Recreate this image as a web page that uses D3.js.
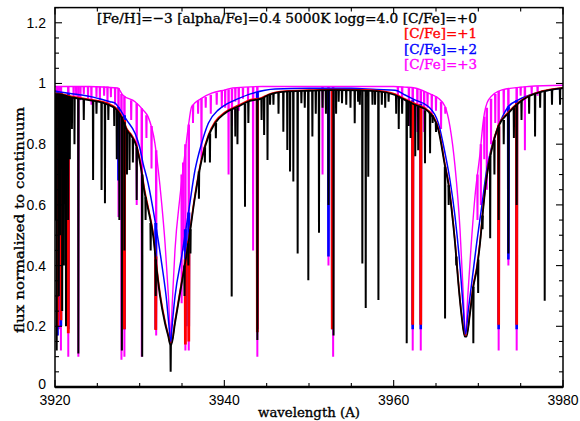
<!DOCTYPE html>
<html><head><meta charset="utf-8">
<script src="https://cdn.jsdelivr.net/npm/d3@7/dist/d3.min.js"></script>
<style>body{margin:0;background:#fff}svg{display:block}</style>
</head><body><svg id="c" width="580" height="421"></svg>
<script>
// ---------- labels / ticks ----------
const xTickValues = [3920, 3940, 3960, 3980];
const xTickLabels = ["3920", "3940", "3960", "3980"];
const yTickValues = [0, 0.2, 0.4, 0.6, 0.8, 1, 1.2];
const yTickLabels = ["0", "0.2", "0.4", "0.6", "0.8", "1", "1.2"];
const titleText = "[Fe/H]=\u22123 [alpha/Fe]=0.4 5000K logg=4.0 [C/Fe]=+0";
const legendLabels = ["[C/Fe]=+1", "[C/Fe]=+2", "[C/Fe]=+3"];
const xLabel = "wavelength (A)";
const yLabel = "flux normalized to continuum";

// ---------- pseudo-continuum / broad profiles [wavelength, flux] ----------
const blackCont = [[3920.0,0.965],[3920.5,0.965],[3921.0,0.962],[3921.6,0.957],[3922.2,0.953],[3923.15,0.949],[3924.0,0.945],[3925.1,0.94],[3926.0,0.933],[3926.6,0.926],[3927.1,0.918],[3927.5,0.905],[3928.0,0.88],[3928.46,0.847],[3929.06,0.825],[3929.65,0.79],[3930.16,0.72],[3930.55,0.645],[3931.02,0.583],[3931.61,0.495],[3932.0,0.39],[3932.4,0.30],[3932.99,0.21],[3933.39,0.166],[3933.6,0.14],[3933.75,0.14],[3934.17,0.21],[3934.96,0.341],[3935.75,0.473],[3936.54,0.627],[3937.32,0.748],[3938.11,0.825],[3938.9,0.869],[3940.08,0.902],[3941.65,0.924],[3943.03,0.943],[3944.4,0.95],[3945.2,0.962],[3947.2,0.973],[3950.0,0.976],[3953.0,0.978],[3956.0,0.977],[3958.0,0.975],[3960.16,0.962],[3961.3,0.946],[3962.5,0.93],[3964.1,0.907],[3965.28,0.847],[3966.07,0.726],[3966.45,0.671],[3966.85,0.583],[3967.25,0.473],[3967.64,0.341],[3968.03,0.232],[3968.4,0.166],[3968.6,0.166],[3969.02,0.243],[3969.41,0.33],[3969.8,0.385],[3970.2,0.473],[3970.6,0.594],[3971.0,0.693],[3971.58,0.781],[3972.36,0.858],[3973.55,0.902],[3974.73,0.935],[3975.9,0.957],[3977.5,0.973],[3980.0,0.985]];
const redCont = [[3920.0,0.968],[3920.5,0.967],[3921.0,0.964],[3921.6,0.96],[3922.2,0.956],[3923.15,0.952],[3924.0,0.948],[3925.1,0.943],[3926.0,0.937],[3926.6,0.93],[3927.1,0.922],[3927.5,0.91],[3928.0,0.885],[3928.46,0.852],[3929.06,0.83],[3929.65,0.796],[3930.16,0.728],[3930.55,0.655],[3931.02,0.59],[3931.61,0.503],[3932.0,0.40],[3932.4,0.31],[3932.99,0.218],[3933.39,0.17],[3933.6,0.145],[3933.75,0.145],[3934.17,0.216],[3934.96,0.348],[3935.75,0.48],[3936.54,0.634],[3937.32,0.754],[3938.11,0.83],[3938.9,0.874],[3940.08,0.906],[3941.65,0.928],[3943.03,0.946],[3944.4,0.953],[3945.2,0.964],[3947.2,0.975],[3950.0,0.978],[3953.0,0.98],[3956.0,0.979],[3958.0,0.977],[3960.16,0.965],[3961.3,0.95],[3962.5,0.934],[3964.1,0.911],[3965.28,0.852],[3966.07,0.733],[3966.45,0.678],[3966.85,0.59],[3967.25,0.48],[3967.64,0.348],[3968.03,0.238],[3968.4,0.17],[3968.6,0.17],[3969.02,0.25],[3969.41,0.337],[3969.8,0.392],[3970.2,0.48],[3970.6,0.6],[3971.0,0.7],[3971.58,0.787],[3972.36,0.862],[3973.55,0.906],[3974.73,0.938],[3975.9,0.959],[3977.5,0.975],[3980.0,0.986]];
const blueCont = [[3920.0,0.975],[3921.0,0.97],[3922.0,0.966],[3923.15,0.962],[3924.5,0.955],[3925.5,0.948],[3926.5,0.94],[3927.1,0.935],[3927.5,0.922],[3928.0,0.90],[3928.46,0.88],[3929.45,0.836],[3930.0,0.79],[3930.4,0.737],[3931.0,0.671],[3931.8,0.55],[3932.6,0.407],[3933.2,0.28],[3933.5,0.19],[3933.66,0.135],[3933.8,0.19],[3934.17,0.298],[3934.96,0.43],[3935.75,0.572],[3936.54,0.715],[3937.32,0.803],[3938.11,0.869],[3939.3,0.913],[3940.08,0.929],[3941.65,0.95],[3943.0,0.965],[3944.8,0.978],[3946.0,0.982],[3950.0,0.984],[3955.0,0.984],[3958.0,0.98],[3960.16,0.978],[3961.35,0.962],[3962.5,0.946],[3964.1,0.924],[3965.28,0.869],[3966.07,0.77],[3966.65,0.682],[3967.25,0.561],[3967.84,0.396],[3968.23,0.254],[3968.48,0.17],[3968.82,0.254],[3969.21,0.341],[3969.8,0.473],[3970.4,0.594],[3970.99,0.715],[3971.58,0.792],[3972.36,0.858],[3973.55,0.924],[3974.73,0.946],[3976.7,0.968],[3980.0,0.984]];
const magCont = [[3920.0,0.99],[3924.0,0.99],[3927.4,0.985],[3928.0,0.962],[3929.45,0.94],[3930.4,0.913],[3931.0,0.89],[3931.8,0.803],[3932.2,0.715],[3932.6,0.605],[3933.0,0.473],[3933.4,0.298],[3933.66,0.165],[3933.85,0.276],[3934.17,0.451],[3934.76,0.627],[3935.35,0.77],[3935.75,0.858],[3936.14,0.924],[3937.3,0.951],[3938.5,0.968],[3940.08,0.979],[3941.0,0.985],[3944.5,0.99],[3960.0,0.99],[3961.3,0.988],[3962.5,0.985],[3964.1,0.968],[3965.28,0.951],[3966.07,0.924],[3966.65,0.858],[3967.25,0.726],[3967.84,0.517],[3968.23,0.298],[3968.48,0.166],[3968.75,0.298],[3969.14,0.462],[3969.6,0.627],[3970.2,0.77],[3970.6,0.88],[3971.2,0.946],[3972.8,0.979],[3975.9,0.99],[3980.0,0.994]];

// ---------- narrow absorption lines [wavelength, top flux, bottom flux] ----------
const blackLines = [[3920.1,0.965,0.55],[3920.2,0.965,0.12],[3920.45,0.965,0.30],[3920.6,0.965,0.50],[3920.85,0.964,0.25],[3921.05,0.962,0.40],[3921.3,0.96,0.20],[3921.55,0.958,0.55],[3921.75,0.956,0.75],[3922.0,0.954,0.85],[3922.3,0.953,0.80],[3922.76,0.951,0.11],[3923.4,0.948,0.88],[3924.5,0.943,0.682],[3924.9,0.941,0.90],[3925.5,0.937,0.649],[3925.9,0.934,0.605],[3926.3,0.93,0.88],[3927.0,0.92,0.86],[3927.3,0.912,0.75],[3927.6,0.9,0.55],[3927.9,0.89,0.12],[3928.2,0.872,0.45],[3928.5,0.846,0.70],[3928.8,0.835,0.715],[3929.2,0.818,0.74],[3929.65,0.79,0.616],[3930.3,0.70,0.10],[3930.7,0.625,0.55],[3931.3,0.54,0.45],[3931.9,0.42,0.30],[3933.66,0.14,0.05],[3935.3,0.40,0.30],[3935.75,0.473,0.40],[3936.0,0.52,0.44],[3937.0,0.71,0.62],[3937.7,0.79,0.74],[3938.3,0.835,0.74],[3939.0,0.87,0.82],[3940.87,0.913,0.298],[3941.3,0.918,0.825],[3941.55,0.922,0.80],[3942.44,0.934,0.594],[3942.84,0.94,0.87],[3943.9,0.946,0.155],[3944.4,0.95,0.88],[3944.7,0.955,0.83],[3945.1,0.96,0.748],[3945.4,0.963,0.93],[3945.8,0.966,0.93],[3946.4,0.97,0.90],[3946.97,0.972,0.841],[3947.44,0.973,0.781],[3947.76,0.974,0.71],[3948.15,0.975,0.677],[3948.66,0.975,0.44],[3949.1,0.976,0.935],[3949.5,0.976,0.92],[3949.92,0.976,0.352],[3950.4,0.976,0.825],[3950.8,0.977,0.90],[3951.18,0.977,0.508],[3951.6,0.977,0.92],[3952.0,0.977,0.90],[3952.3,0.977,0.60],[3952.9,0.978,0.17],[3953.2,0.978,0.90],[3953.5,0.978,0.94],[3953.9,0.978,0.935],[3954.4,0.978,0.93],[3954.9,0.978,0.92],[3955.4,0.978,0.869],[3955.8,0.978,0.94],[3956.0,0.977,0.93],[3956.3,0.977,0.407],[3956.7,0.976,0.26],[3957.0,0.976,0.693],[3957.5,0.975,0.93],[3957.8,0.975,0.93],[3958.2,0.974,0.287],[3958.6,0.972,0.93],[3959.0,0.97,0.92],[3959.4,0.968,0.94],[3960.3,0.96,0.90],[3960.6,0.957,0.85],[3961.0,0.952,0.90],[3961.54,0.945,0.144],[3961.75,0.943,0.86],[3962.0,0.94,0.82],[3962.55,0.93,0.76],[3962.9,0.925,0.78],[3963.7,0.912,0.737],[3964.3,0.903,0.77],[3964.6,0.895,0.87],[3965.0,0.87,0.84],[3966.07,0.726,0.226],[3966.5,0.665,0.60],[3967.4,0.43,0.40],[3969.41,0.33,0.144],[3969.98,0.42,0.31],[3970.5,0.565,0.52],[3971.4,0.76,0.49],[3971.9,0.815,0.70],[3972.4,0.858,0.55],[3973.0,0.88,0.80],[3973.55,0.902,0.44],[3974.2,0.92,0.82],[3974.53,0.93,0.60],[3975.1,0.942,0.88],[3976.0,0.958,0.90],[3976.7,0.965,0.825],[3977.3,0.97,0.92],[3977.84,0.975,0.284],[3978.7,0.979,0.93],[3979.65,0.984,0.93]];
const redLines = [[3920.3,0.967,0.20],[3920.7,0.966,0.22],[3921.57,0.96,0.177],[3928.2,0.88,0.19],[3931.9,0.43,0.188],[3935.4,0.42,0.14],[3935.8,0.48,0.15],[3943.9,0.946,0.18],[3952.75,0.98,0.19],[3962.25,0.934,0.205],[3963.2,0.922,0.205],[3972.4,0.862,0.205],[3974.53,0.936,0.205]];
const blueLines = [[3920.3,0.974,0.17],[3920.7,0.972,0.20],[3921.57,0.968,0.19],[3927.5,0.922,0.68],[3928.2,0.895,0.19],[3931.9,0.54,0.19],[3935.4,0.52,0.20],[3935.8,0.575,0.20],[3943.9,0.972,0.19],[3952.3,0.984,0.43],[3952.75,0.984,0.19],[3962.25,0.945,0.19],[3963.2,0.932,0.19],[3972.4,0.858,0.19],[3973.55,0.924,0.42],[3974.53,0.945,0.19]];
const magLines = [[3920.25,0.99,0.17],[3920.5,0.99,0.19],[3920.7,0.99,0.12],[3921.57,0.99,0.10],[3922.2,0.99,0.95],[3922.5,0.99,0.96],[3922.76,0.99,0.10],[3923.0,0.99,0.945],[3923.4,0.99,0.965],[3923.9,0.99,0.95],[3924.3,0.99,0.93],[3924.9,0.99,0.955],[3925.3,0.99,0.945],[3925.8,0.99,0.96],[3926.2,0.99,0.935],[3926.6,0.988,0.955],[3927.1,0.987,0.93],[3927.5,0.985,0.56],[3927.85,0.965,0.09],[3928.2,0.958,0.10],[3929.0,0.945,0.88],[3929.65,0.935,0.60],[3930.25,0.918,0.10],[3930.8,0.895,0.82],[3931.4,0.86,0.72],[3931.95,0.78,0.17],[3934.96,0.70,0.276],[3935.15,0.74,0.45],[3935.4,0.80,0.12],[3935.8,0.865,0.12],[3936.3,0.93,0.87],[3936.9,0.945,0.90],[3937.3,0.951,0.75],[3937.8,0.955,0.92],[3938.4,0.963,0.90],[3939.1,0.97,0.93],[3939.7,0.976,0.92],[3940.1,0.979,0.92],[3940.5,0.981,0.70],[3940.9,0.983,0.86],[3941.3,0.985,0.94],[3941.7,0.986,0.91],[3942.2,0.987,0.95],[3942.8,0.988,0.94],[3943.4,0.989,0.45],[3943.9,0.99,0.10],[3951.6,0.99,0.70],[3952.3,0.99,0.40],[3952.85,0.99,0.10],[3960.5,0.99,0.95],[3961.0,0.989,0.93],[3961.8,0.987,0.86],[3962.25,0.985,0.12],[3962.8,0.982,0.84],[3963.2,0.978,0.12],[3963.6,0.974,0.84],[3964.0,0.969,0.92],[3964.5,0.965,0.89],[3965.0,0.958,0.91],[3965.6,0.94,0.85],[3966.1,0.922,0.90],[3969.9,0.70,0.55],[3970.3,0.80,0.60],[3970.7,0.89,0.75],[3971.0,0.92,0.65],[3971.5,0.95,0.80],[3972.0,0.965,0.87],[3972.4,0.975,0.12],[3973.0,0.98,0.90],[3973.55,0.983,0.40],[3974.53,0.987,0.12],[3975.0,0.989,0.96],[3975.5,0.99,0.78],[3976.3,0.99,0.965],[3977.0,0.991,0.96]];

const seriesList = [
  {name: "[C/Fe]=+3", color: "#ff00ff", cont: magCont, lines: magLines, cw: 1.4, lw: 2.0},
  {name: "[C/Fe]=+2", color: "#0000ff", cont: blueCont, lines: blueLines, cw: 1.5, lw: 2.6},
  {name: "[C/Fe]=+1", color: "#ff0000", cont: redCont, lines: redLines, cw: 1.6, lw: 2.8},
  {name: "[C/Fe]=+0", color: "#000000", cont: blackCont, lines: blackLines, cw: 1.8, lw: 2.0}
];
const legendColors = ["#ff0000", "#0000ff", "#ff00ff"];

// ---------- layout ----------
const L = 55, R = 563, T = 7.6, B = 387;
const svg = d3.select("#c");
const x = d3.scaleLinear().domain([3920, 3980]).range([L, R]);
const y = d3.scaleLinear().domain([0, 1.25]).range([B, T]);

svg.append("defs").append("clipPath").attr("id", "clip")
  .append("rect").attr("x", L).attr("y", T).attr("width", R - L).attr("height", B - T);

const plot = svg.append("g").attr("clip-path", "url(#clip)");
const line = d3.line().x(d => x(d[0])).y(d => y(d[1])).curve(d3.curveMonotoneX);
const dw = 0.03;

seriesList.forEach(s => {
  const g = plot.append("g");
  g.append("path").attr("d", line(s.cont)).attr("fill", "none")
    .attr("stroke", s.color).attr("stroke-width", s.cw).attr("stroke-linejoin", "round");
  g.selectAll("path.sp").data(s.lines).enter().append("path").attr("class", "sp")
    .attr("d", d => `M${x(d[0] - dw)},${y(d[1])}L${x(d[0])},${y(d[2])}L${x(d[0] + dw)},${y(d[1])}`)
    .attr("fill", "none").attr("stroke", s.color).attr("stroke-width", s.lw).attr("stroke-linejoin", "bevel");
});

// ---------- frame and ticks ----------
const fr = svg.append("g").attr("stroke", "#000").attr("fill", "none");
fr.append("rect").attr("x", L).attr("y", T).attr("width", R - L).attr("height", B - T).attr("stroke-width", 1.5);
fr.append("line").attr("x1", L).attr("x2", R).attr("y1", B).attr("y2", B).attr("stroke-width", 2.4);

const xMinor = d3.range(3920, 3981, 5);
const yMinor = d3.range(0, 1.26, 0.05);
xMinor.forEach(v => {
  const len = xTickValues.includes(v) ? 7 : 4;
  fr.append("line").attr("x1", x(v)).attr("x2", x(v)).attr("y1", B).attr("y2", B - len).attr("stroke-width", 1.1);
  fr.append("line").attr("x1", x(v)).attr("x2", x(v)).attr("y1", T).attr("y2", T + len).attr("stroke-width", 1.1);
});
yMinor.forEach(v => {
  const major = yTickValues.some(t => Math.abs(t - v) < 1e-6);
  const len = major ? 7 : 4;
  fr.append("line").attr("x1", L).attr("x2", L + len).attr("y1", y(v)).attr("y2", y(v)).attr("stroke-width", 1.1);
  fr.append("line").attr("x1", R).attr("x2", R - len).attr("y1", y(v)).attr("y2", y(v)).attr("stroke-width", 1.1);
});

const sans = "'Liberation Sans', Arial, sans-serif";
const serif = "'DejaVu Serif', serif";
svg.selectAll("text.yt").data(yTickValues).enter().append("text").attr("class", "yt")
  .attr("x", 46).attr("y", d => d === 0 ? 389 : y(d) + 5).attr("text-anchor", "end")
  .attr("font-family", sans).attr("font-size", 14).text((d, i) => yTickLabels[i]);
svg.selectAll("text.xt").data(xTickValues).enter().append("text").attr("class", "xt")
  .attr("x", d => x(d)).attr("y", 405).attr("text-anchor", "middle")
  .attr("font-family", sans).attr("font-size", 14).text((d, i) => xTickLabels[i]);

function txt(xp, yp, s, len, color) {
  return svg.append("text").attr("x", xp).attr("y", yp).attr("font-family", serif).attr("font-size", 13.5)
    .attr("fill", color).attr("stroke", color).attr("stroke-width", 0.35)
    .attr("textLength", len).attr("lengthAdjust", "spacingAndGlyphs").text(s);
}
txt(97, 22.5, titleText, 380, "#000");
legendLabels.forEach((t, i) => txt(404, 38 + i * 15.5, t, 73, legendColors[i]));
txt(258, 417, xLabel, 102, "#000");
svg.append("text").attr("transform", "translate(24,220) rotate(-90)").attr("text-anchor", "middle")
  .attr("font-family", serif).attr("font-size", 13.5).attr("stroke", "#000").attr("stroke-width", 0.35)
  .attr("textLength", 226).attr("lengthAdjust", "spacingAndGlyphs").text(yLabel);
</script></body></html>
